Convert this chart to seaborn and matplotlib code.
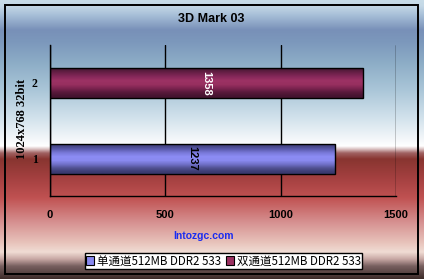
import numpy as np
import pandas as pd
import matplotlib
matplotlib.use("Agg")
import matplotlib.pyplot as plt
from matplotlib.colors import to_rgb
from matplotlib.patches import Patch, Rectangle
import seaborn as sns

# ---- data ----
title = "3D Mark 03"
y_label = "1024x768 32bit"
categories = ["1", "2"]
series = ["单通道512MB DDR2 533", "双通道512MB DDR2 533"]
values = [1237, 1358]
x_ticks = [0, 500, 1000, 1500]
watermark = "Intozgc.com"

df = pd.DataFrame({"cat": categories, "series": series, "value": values})

sns.set_style("white")
plt.rcParams["font.family"] = ["Liberation Sans", "DejaVu Sans"]
plt.rcParams["text.color"] = "black"
plt.rcParams["xtick.color"] = "black"
plt.rcParams["ytick.color"] = "black"

W, H = 424, 279
fig = plt.figure(figsize=(W / 100, H / 100), dpi=100)

# ---- page background: vertical colour bands ----
stops = [
    (0, "#c8dce8"), (6, "#c4d8e6"), (16, "#a4bcd6"), (30, "#7890b8"),
    (42, "#7c98bc"), (62, "#8cacc6"), (90, "#aac6d8"), (118, "#d2e2ec"),
    (138, "#f2f6f9"), (146, "#ffffff"), (149, "#dcc4c4"), (153, "#a06262"),
    (159, "#883530"), (178, "#a44040"), (198, "#c05252"), (222, "#d69090"),
    (243, "#e8c4bc"), (252, "#f0dcd4"), (259, "#c8a8a4"), (266, "#786060"),
    (279, "#3c2a28"),
]
ys = np.array([s[0] for s in stops], dtype=float)
cols = np.array([to_rgb(s[1]) for s in stops])
rows = np.arange(H) + 0.5
grad = np.stack([np.interp(rows, ys, cols[:, c]) for c in range(3)], axis=-1)
bg = fig.add_axes([0, 0, 1, 1], zorder=-10)
bg.imshow(grad[:, None, :], aspect="auto", extent=(0, W, H, 0))
bg.set_xlim(0, W)
bg.set_ylim(H, 0)
bg.axis("off")
bg.add_patch(Rectangle((4.5, 4.5), 413.5, 269, fill=False, lw=1.4, ec="black"))

# ---- plot area ----
left, right, top, bottom = 50, 396, 45, 196
ax = fig.add_axes([left / W, 1 - bottom / H, (right - left) / W, (bottom - top) / H])
ax.patch.set_alpha(0)

palette = {series[0]: "#8888f0", series[1]: "#9a3060"}
sns.barplot(data=df, x="value", y="cat", hue="series", order=["2", "1"],
            palette=palette, dodge=False, width=0.4, orient="h",
            edgecolor="black", linewidth=1.0, legend=False, ax=ax)

shades = {
    series[0]: ["#404078", "#5858a8", "#7878d8", "#8c8cf4", "#8a8af0", "#7070c8", "#505090", "#3a3a70"],
    series[1]: ["#4a1834", "#6a2048", "#86285a", "#9c3264", "#983060", "#7c2450", "#5a1a3c", "#461430"],
}
value_of = dict(zip(df["value"], df["series"]))
for p in ax.patches:
    w = p.get_width()
    if w <= 0:
        continue
    s = value_of.get(int(round(w)))
    band = np.array([to_rgb(c) for c in shades[s]])
    x0, y0, h = p.get_x(), p.get_y(), p.get_height()
    im = ax.imshow(band[:, None, :], aspect="auto", extent=(x0, x0 + w, y0 + h, y0),
                   origin="upper", interpolation="bilinear", zorder=2.5)
    im.set_clip_path(p)
    p.set_facecolor("none")
    p.set_zorder(3)
    txt_color = "white" if s == series[1] else "black"
    ax.text(x0 + w / 2, y0 + h / 2, str(int(round(w))), rotation=-90,
            ha="center", va="center", fontsize=8, fontweight="bold",
            color=txt_color, zorder=4)

ax.set_xlim(0, 1500)
ax.set_ylim(1.49, -0.5)
ax.set_xticks(x_ticks)
ax.set_xticklabels([str(t) for t in x_ticks], fontsize=8, fontweight="bold")
ax.tick_params(axis="x", length=2, width=1, color="black", pad=8, labelcolor="black")
ax.tick_params(axis="y", length=0, pad=9, labelcolor="black")
for lab in ax.get_yticklabels():
    lab.set_fontfamily("Liberation Serif")
    lab.set_fontweight("bold")
    lab.set_fontsize(8.5)
ax.xaxis.grid(True, color="black", lw=1)
ax.yaxis.grid(False)
ax.set_axisbelow(True)
for side in ("top", "right"):
    ax.spines[side].set_visible(False)
for side in ("left", "bottom"):
    ax.spines[side].set_color("black")
    ax.spines[side].set_linewidth(1)
ax.set_xlabel("")
ax.set_ylabel("")

fig.text(22 / W, 1 - 119 / H, y_label, rotation=90, ha="center", va="center",
         fontfamily="Liberation Serif", fontweight="bold", fontsize=9)
fig.text(211 / W, 1 - 19 / H, title, ha="center", va="center",
         fontsize=9, fontweight="bold")
fig.text(203 / W, 1 - 236 / H, watermark, ha="center", va="center",
         fontsize=7.5, fontweight="bold", color="#1a2cf0")

handles = [Patch(facecolor=palette[s], edgecolor="black", lw=0.8) for s in series]
leg = fig.legend(handles, series, loc="center", bbox_to_anchor=(223.5 / W, 1 - 261 / H),
                 ncol=2, frameon=True, fancybox=False, edgecolor="black", framealpha=1,
                 prop={"family": ["Noto Sans CJK SC", "DejaVu Sans"], "size": 8.3},
                 handlelength=0.7, handleheight=0.7, handletextpad=0.25,
                 columnspacing=0.4, borderpad=0.1, borderaxespad=0)
leg.get_frame().set_linewidth(1)
for t in leg.get_texts():
    t.set_color("black")

fig.savefig("out.png", dpi=100)
